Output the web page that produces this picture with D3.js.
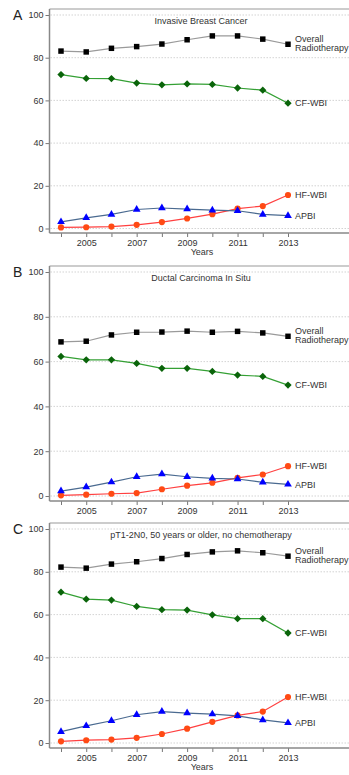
<!DOCTYPE html>
<html>
<head>
<meta charset="utf-8">
<script src="https://cdnjs.cloudflare.com/ajax/libs/d3/7.8.5/d3.min.js"></script>
<style>
  body { margin: 0; background: #fff; }
  svg { display: block; }
</style>
</head>
<body>
<div id="chart"></div>
<script>
// Years on the x axis
const years = [2004, 2005, 2006, 2007, 2008, 2009, 2010, 2011, 2012, 2013];
const yearLabels = [2005, 2007, 2009, 2011, 2013];
const yTicks = [0, 20, 40, 60, 80, 100];

// Panel A - Invasive Breast Cancer
const overallA = [83.1, 82.7, 84.4, 85.2, 86.4, 88.4, 90.2, 90.2, 88.7, 86.3];
const cfA      = [72.1, 70.3, 70.2, 68.1, 67.3, 67.7, 67.5, 65.8, 64.8, 58.7];
const hfA      = [0.5, 0.6, 0.9, 1.7, 3.0, 4.7, 6.7, 9.3, 10.5, 15.7];
const apbiA    = [3.1, 5.0, 6.6, 8.9, 9.6, 9.1, 8.6, 8.3, 6.6, 6.0];

// Panel B - Ductal Carcinoma In Situ
const overallB = [68.8, 69.1, 71.9, 73.1, 73.2, 73.6, 73.1, 73.5, 72.8, 71.3];
const cfB      = [62.3, 60.8, 60.8, 59.2, 57.0, 57.0, 55.6, 54.0, 53.4, 49.5];
const hfB      = [0.3, 0.6, 1.0, 1.3, 3.0, 4.6, 5.9, 8.1, 9.6, 13.3];
const apbiB    = [2.2, 4.0, 6.2, 8.6, 9.8, 8.6, 7.9, 7.6, 6.1, 5.2];

// Panel C - pT1-2N0, 50 years or older, no chemotherapy
const overallC = [82.2, 81.7, 83.6, 84.7, 86.2, 88.1, 89.3, 89.8, 88.9, 87.3];
const cfC      = [70.5, 67.2, 66.8, 63.8, 62.3, 62.1, 59.9, 58.1, 58.1, 51.4];
const hfC      = [0.8, 1.3, 1.6, 2.4, 4.2, 6.7, 9.9, 12.9, 14.7, 21.5];
const apbiC    = [5.3, 8.0, 10.4, 13.2, 14.7, 14.0, 13.5, 12.7, 10.8, 9.4];

const seriesNames = ["Overall Radiotherapy", "CF-WBI", "HF-WBI", "APBI"];

// series styles
const styles = {
  "Overall Radiotherapy": { line: "#9a9a9a", mark: "#000000", symbol: d3.symbolSquare, size: 30 },
  "CF-WBI": { line: "#34a034", mark: "#0a640a", symbol: d3.symbolDiamond2, size: 34 },
  "HF-WBI": { line: "#ff4040", mark: "#ff4a14", symbol: d3.symbolCircle, size: 30 },
  "APBI":   { line: "#4a6a90", mark: "#0000ff", symbol: d3.symbolTriangle, size: 26 }
};

const panels = [
  { letter: "A", title: "Invasive Breast Cancer", top: 9, y100: 15, y0: 228.5, axisY: 233, years: true,
    data: [overallA, cfA, hfA, apbiA] },
  { letter: "B", title: "Ductal Carcinoma In Situ", top: 266, y100: 272, y0: 496, axisY: 501, years: false,
    data: [overallB, cfB, hfB, apbiB] },
  { letter: "C", title: "pT1-2N0, 50 years or older, no chemotherapy", top: 523, y100: 529, y0: 743, axisY: 748, years: true,
    data: [overallC, cfC, hfC, apbiC] }
];

const width = 349;
const height = 775;
const left = 49.5;
const right = 352;

const svg = d3.select("#chart").append("svg")
  .attr("width", width)
  .attr("height", height)
  .style("font-family", "'Liberation Sans', Arial, sans-serif");

const x = d3.scaleLinear().domain([2004, 2013]).range([61, 288]);

panels.forEach(p => {
  const y = d3.scaleLinear().domain([0, 100]).range([p.y0, p.y100]);
  const g = svg.append("g");

  // gridlines
  g.selectAll(".grid")
    .data(yTicks)
    .enter()
    .append("line")
    .attr("x1", left + 1)
    .attr("x2", right)
    .attr("y1", d => y(d))
    .attr("y2", d => y(d))
    .attr("stroke", "#c8c8c8")
    .attr("stroke-width", 0.8)
    .attr("stroke-dasharray", "1.5,1.5");

  // frame top
  g.append("line")
    .attr("x1", left).attr("x2", right)
    .attr("y1", p.top).attr("y2", p.top)
    .attr("stroke", "#999").attr("stroke-width", 1.2);

  // left axis
  const yAxis = g.append("g")
    .attr("transform", `translate(${left},0)`)
    .call(d3.axisLeft(y).tickValues(yTicks).tickSize(4).tickPadding(2));
  yAxis.select(".domain").remove();
  yAxis.selectAll("line").attr("stroke", "#777");
  yAxis.selectAll("text").style("font-size", "9px").attr("fill", "#333");
  g.append("line")
    .attr("x1", left).attr("x2", left)
    .attr("y1", p.top).attr("y2", p.axisY)
    .attr("stroke", "#888").attr("stroke-width", 1.5);

  // bottom axis
  const xAxis = g.append("g")
    .attr("transform", `translate(0,${p.axisY})`)
    .call(d3.axisBottom(x).tickValues(years).tickSize(4).tickPadding(3)
      .tickFormat(d => yearLabels.includes(d) ? d : ""));
  xAxis.select(".domain").remove();
  xAxis.selectAll("line").attr("stroke", "#777");
  xAxis.selectAll("text").style("font-size", "9px").attr("fill", "#333");
  g.append("line")
    .attr("x1", left).attr("x2", right)
    .attr("y1", p.axisY).attr("y2", p.axisY)
    .attr("stroke", "#888").attr("stroke-width", 1.5);

  if (p.years) {
    g.append("text")
      .attr("x", 202)
      .attr("y", p.axisY + 22)
      .attr("text-anchor", "middle")
      .style("font-size", "9px")
      .attr("fill", "#333")
      .text("Years");
  }

  // panel letter
  g.append("text")
    .attr("x", 13)
    .attr("y", p.top + 11)
    .style("font-size", "14px")
    .attr("fill", "#222")
    .text(p.letter);

  // title
  g.append("text")
    .attr("x", 201)
    .attr("y", p.top + 15)
    .attr("text-anchor", "middle")
    .style("font-size", "9px")
    .attr("fill", "#333")
    .text(p.title);

  const line = d3.line()
    .x((d, i) => x(years[i]))
    .y(d => y(d));

  p.data.forEach((vals, si) => {
    const name = seriesNames[si];
    const st = styles[name];
    g.append("path")
      .datum(vals)
      .attr("fill", "none")
      .attr("stroke", st.line)
      .attr("stroke-width", 1.2)
      .attr("d", line);

    g.selectAll(".m" + si)
      .data(vals)
      .enter()
      .append("path")
      .attr("transform", (d, i) => `translate(${x(years[i])},${y(d)})`)
      .attr("d", d3.symbol().type(st.symbol).size(st.size))
      .attr("fill", st.mark);

    // end label
    const last = vals[vals.length - 1];
    const lx = x(years[years.length - 1]) + 7;
    const t = g.append("text")
      .attr("x", lx)
      .attr("y", y(last))
      .style("font-size", "9px")
      .attr("fill", "#333");
    if (name === "Overall Radiotherapy") {
      t.append("tspan").attr("x", lx).attr("dy", "-0.25em").text("Overall");
      t.append("tspan").attr("x", lx).attr("dy", "1.0em").text("Radiotherapy");
    } else {
      t.attr("dy", "0.35em").text(name);
    }
  });
});
</script>
</body>
</html>
